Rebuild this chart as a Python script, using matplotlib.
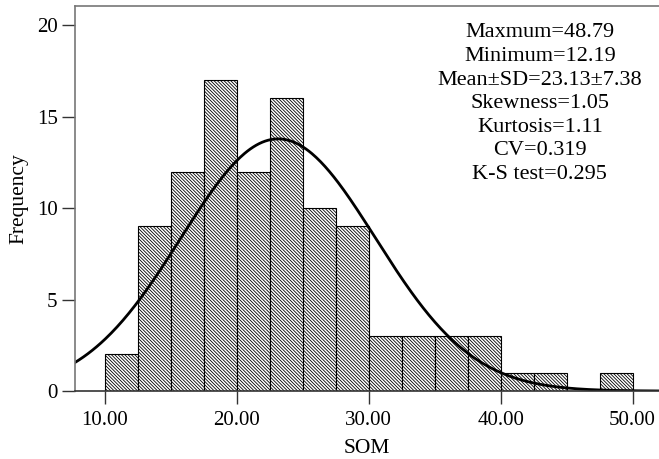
import numpy as np
import matplotlib
matplotlib.use("Agg")
from matplotlib import pyplot as plt

# histogram data (bin edges and counts)
bin_edges = [10.0, 12.5, 15.0, 17.5, 20.0, 22.5, 25.0, 27.5, 30.0,
             32.5, 35.0, 37.5, 40.0, 42.5, 45.0, 47.5, 50.0]
counts = [2, 9, 12, 17, 12, 16, 10, 9, 3, 3, 3, 3, 1, 1, 0, 1]

# summary statistics
mean = 23.13
sd = 7.38
stats_text = ["Maxmum=48.79", "Minimum=12.19", "Mean\u00b1SD=23.13\u00b17.38",
              "Skewness=1.05", "Kurtosis=1.11", "CV=0.319", "K-S test=0.295"]

plt.rcParams['font.family'] = ['Liberation Serif', 'DejaVu Serif']
plt.rcParams['hatch.linewidth'] = 0.6

fig = plt.figure(figsize=(6.59, 4.59), dpi=100)
ax = fig.add_axes([0.1138, 0.148, 0.8862, 0.839])

widths = np.diff(bin_edges)
ax.bar(bin_edges[:-1], counts, width=widths, align='edge', color='white',
       edgecolor='black', linewidth=0.8, hatch='\\' * 10)

n = sum(counts)
bw = bin_edges[1] - bin_edges[0]
x = np.linspace(7.7, 52, 400)
y = n * bw * np.exp(-0.5 * ((x - mean) / sd) ** 2) / (sd * np.sqrt(2 * np.pi))
ax.plot(x, y, color='black', linewidth=2)

ax.set_xlim(7.73, 52)
ax.set_ylim(0, 21.05)
ax.set_xticks([10, 20, 30, 40, 50])
ax.set_xticklabels(["10.00", "20.00", "30.00", "40.00", "50.00"])
ax.set_yticks([0, 5, 10, 15, 20])
ax.tick_params(axis='both', direction='out', length=9.5, width=1, labelsize=15,
               color='#333333')
ax.tick_params(axis='y', pad=3)
ax.tick_params(axis='x', pad=5)
ax.spines['right'].set_visible(False)
for s in ['left', 'top', 'bottom']:
    ax.spines[s].set_color('#777777')
    ax.spines[s].set_linewidth(1.2)
ax.spines['bottom'].set_color('#333333')

ax.set_xlabel("SOM", fontsize=15.5, labelpad=6)
ax.set_ylabel("Frequency", fontsize=15.5, labelpad=6)

ax.text(0.796, 0.955, "\n".join(stats_text), transform=ax.transAxes,
        ha='center', va='top', fontsize=16, linespacing=1.33)

fig.savefig("out.png", dpi=100)
